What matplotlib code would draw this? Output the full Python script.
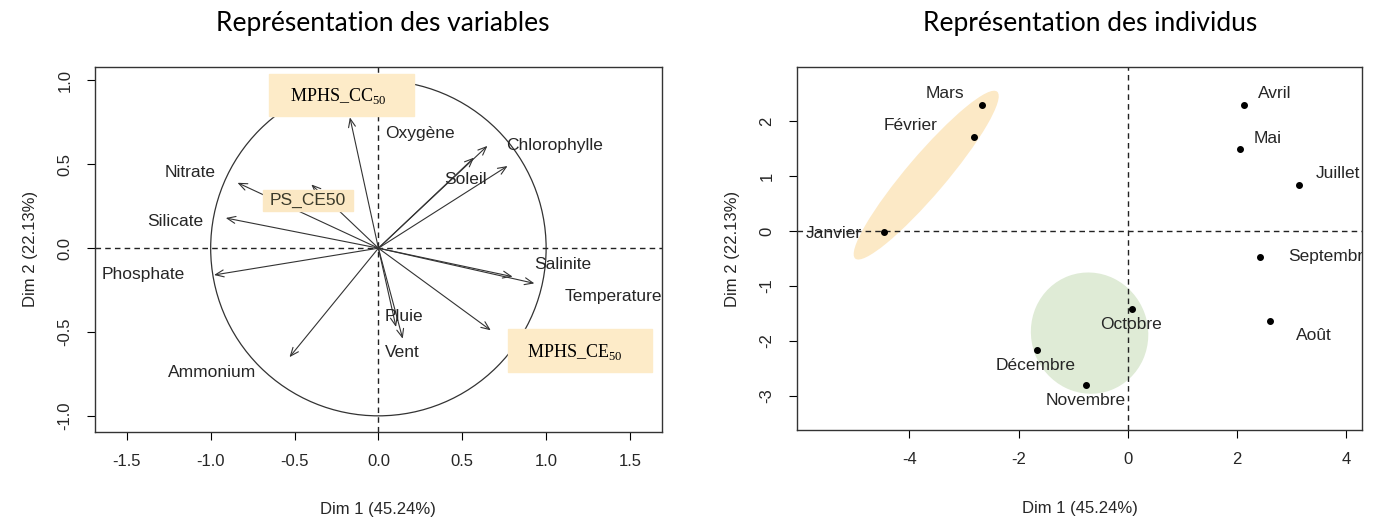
import matplotlib
matplotlib.use("Agg")
import matplotlib.pyplot as plt
from matplotlib.patches import Circle, Ellipse, Rectangle

plt.rcParams['font.family'] = ['Liberation Sans', 'DejaVu Sans']
plt.rcParams['mathtext.fontset'] = 'custom'
plt.rcParams['mathtext.rm'] = 'Liberation Serif'
plt.rcParams['axes.unicode_minus'] = False

## variables (arrows) ##########
var_names = ['MPHS_CC50', 'Nitrate', 'PS_CE50', 'Silicate', 'Phosphate', 'Ammonium',
             'Pluie', 'Vent', 'MPHS_CE50', 'Salinite', 'Temperature',
             'Chlorophylle', 'Oxygène', 'Soleil']
var_x = [-0.17, -0.84, -0.40, -0.91, -0.98, -0.53, 0.105, 0.145, 0.67, 0.80, 0.93, 0.65, 0.57, 0.77]
var_y = [0.78, 0.39, 0.38, 0.18, -0.16, -0.65, -0.47, -0.54, -0.49, -0.17, -0.21, 0.61, 0.54, 0.49]

# label text positions (plain labels)
lab_names = ['Oxygène', 'Chlorophylle', 'Soleil', 'Nitrate', 'Silicate', 'Phosphate',
             'Salinite', 'Pluie', 'Vent', 'Ammonium']
lab_x = [0.25, 1.05, 0.52, -1.12, -1.21, -1.40, 1.10, 0.155, 0.14, -0.99]
lab_y = [0.685, 0.61, 0.41, 0.45, 0.16, -0.16, -0.10, -0.41, -0.62, -0.74]

## individus (points) ##########
months = ['Mars', 'Février', 'Janvier', 'Avril', 'Mai', 'Juillet', 'Septembre',
          'Août', 'Octobre', 'Décembre', 'Novembre']
ind_x = [-2.67, -2.81, -4.46, 2.12, 2.05, 3.13, 2.42, 2.60, 0.07, -1.67, -0.77]
ind_y = [2.29, 1.71, -0.01, 2.29, 1.49, 0.845, -0.47, -1.635, -1.42, -2.17, -2.81]
month_lx = [-3.35, -3.97, -5.38, 2.68, 2.55, 3.84, 2.94, 3.40, 0.06, -1.68, -0.77]
month_ly = [2.51, 1.93, -0.04, 2.51, 1.69, 1.05, -0.47, -1.91, -1.70, -2.45, -3.08]
month_ha = ['center', 'center', 'center', 'center', 'center', 'center', 'left',
            'center', 'center', 'center', 'center']

txtcol = '#262626'
fig = plt.figure(figsize=(13.76, 5.24), dpi=100)

##left: variables #########
ax1 = fig.add_axes([0.069, 0.176, 0.412, 0.696])
ax1.set_xlim(-1.69, 1.69)
ax1.set_ylim(-1.095, 1.08)
ax1.add_patch(Circle((0, 0), 1, fill=False, color='#333333', lw=0.9))
ax1.axhline(0, color='#222222', ls='--', lw=1, dashes=(4, 3))
ax1.axvline(0, color='#222222', ls='--', lw=1, dashes=(4, 3))
for n, x, y in zip(var_names, var_x, var_y):
    ax1.annotate('', xy=(x, y), xytext=(0, 0),
                 arrowprops=dict(arrowstyle='->,head_length=0.6,head_width=0.25',
                                 color='#333333', lw=0.8, shrinkA=0, shrinkB=0))
for n, x, y in zip(lab_names, lab_x, lab_y):
    ax1.text(x, y, n, ha='center', va='center', fontsize=12.5, color=txtcol)
ax1.text(1.11, -0.29, 'Temperature', ha='left', va='center', fontsize=12.5,
         color=txtcol, clip_on=True)

# highlighted labels
ax1.add_patch(Rectangle((-0.65, 0.79), 0.86, 0.25, color='#fdebc8', zorder=3))
ax1.text(-0.24, 0.91, 'MPHS_CC$_{\\mathrm{50}}$', family='Liberation Serif',
         fontsize=13, ha='center', va='center', zorder=4)
ax1.add_patch(Rectangle((0.77, -0.74), 0.86, 0.26, color='#fdebc8', zorder=3))
ax1.text(1.17, -0.62, 'MPHS_CE$_{\\mathrm{50}}$', family='Liberation Serif',
         fontsize=13, ha='center', va='center', zorder=4)
ax1.add_patch(Rectangle((-0.69, 0.22), 0.54, 0.125, color='#fbe8c4', zorder=3))
ax1.text(-0.42, 0.285, 'PS_CE50', fontsize=12.5, ha='center', va='center',
         color='#3a3a2a', zorder=4)

ax1.set_xticks([-1.5, -1.0, -0.5, 0.0, 0.5, 1.0, 1.5])
ax1.set_yticks([-1.0, -0.5, 0.0, 0.5, 1.0])
ax1.set_xlabel('Dim 1 (45.24%)', fontsize=12, color=txtcol, labelpad=24)
ax1.set_ylabel('Dim 2 (22.13%)', fontsize=12, color=txtcol, labelpad=14)

##right: individus #########
ax2 = fig.add_axes([0.579, 0.179, 0.411, 0.693])
ax2.set_xlim(-6.06, 4.29)
ax2.set_ylim(-3.63, 2.99)
ax2.add_patch(Ellipse((-3.69, 1.02), 4.0, 0.72, angle=49.5, color='#fce9c6', lw=0))
ax2.add_patch(Ellipse((-0.70, -1.86), 2.14, 2.22, angle=20, color='#dfebd6', lw=0))
ax2.axhline(0, color='#222222', ls='--', lw=1, dashes=(4, 3))
ax2.axvline(0, color='#222222', ls='--', lw=1, dashes=(4, 3))
ax2.plot(ind_x, ind_y, 'o', color='black', ms=4)
for n, x, y, h in zip(months, month_lx, month_ly, month_ha):
    ax2.text(x, y, n, ha=h, va='center', fontsize=12.5, color=txtcol, clip_on=True)
ax2.set_xticks([-4, -2, 0, 2, 4])
ax2.set_yticks([-3, -2, -1, 0, 1, 2])
ax2.set_xlabel('Dim 1 (45.24%)', fontsize=12, color=txtcol, labelpad=24)
ax2.set_ylabel('Dim 2 (22.13%)', fontsize=12, color=txtcol, labelpad=14)

for ax in (ax1, ax2):
    ax.tick_params(axis='both', labelsize=12, labelcolor=txtcol, length=6, pad=10)
    ax.tick_params(axis='y', labelrotation=90)
    for lab in ax.get_yticklabels():
        lab.set_va('center')
    for s in ax.spines.values():
        s.set_color('#333333')
        s.set_linewidth(1)

fig.text(0.278, 0.955, 'Représentation des variables', fontsize=19,
         family=['Lato', 'DejaVu Sans'], ha='center', va='center')
fig.text(0.792, 0.955, 'Représentation des individus', fontsize=19,
         family=['Lato', 'DejaVu Sans'], ha='center', va='center')

plt.savefig('out.png', dpi=100)
